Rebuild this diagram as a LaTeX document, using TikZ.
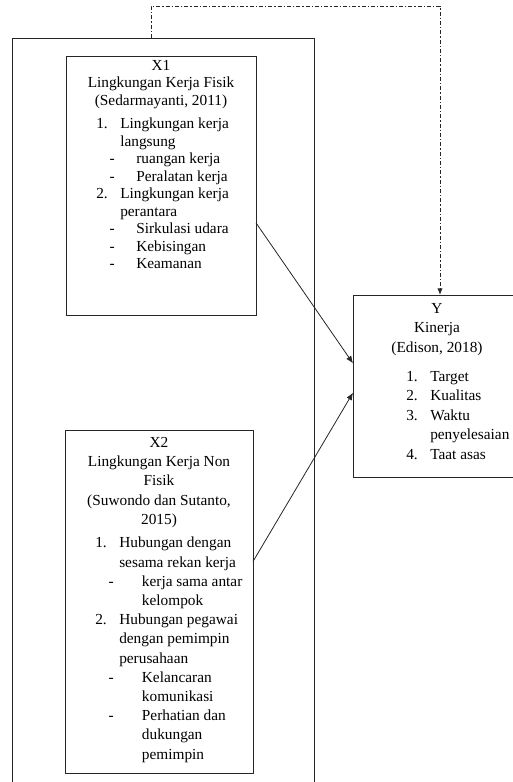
\documentclass[tikz,border=0pt]{standalone}
\usepackage{fontspec}
\setmainfont{Liberation Serif}
\usetikzlibrary{positioning,fit,arrows.meta}

\newcommand{\nomor}[2]{\makebox[18pt][l]{#1}#2}
\newcommand{\lanjut}[1]{\hspace*{18pt}#1}
\newcommand{\strip}[2][30pt]{\hspace*{10pt}\makebox[\dimexpr#1-10pt\relax][l]{-}#2}
\newcommand{\lanjutstrip}[2][30pt]{\hspace*{#1}#2}

\begin{document}
\begin{tikzpicture}[x=0.75pt,y=-0.75pt]
\tikzstyle{bingkai}=[draw=black!85, line width=0.75pt, inner sep=0pt, outer sep=0pt]
\tikzstyle{judul}=[align=center, inner sep=0pt, anchor=north, font=\fontsize{11.5}{14.4}\selectfont]
\tikzstyle{daftar}=[align=left, inner sep=0pt, anchor=north west, font=\fontsize{11.5}{14.4}\selectfont]
\tikzstyle{rapat}=[font=\fontsize{11.5}{13.1}\selectfont]
\tikzstyle{longgar}=[font=\fontsize{11.5}{14.6}\selectfont]
\tikzstyle{panah}=[-{Latex[length=5.5pt,width=4.5pt]}, line width=0.6pt, draw=black!85]
\tikzstyle{putus}=[-{Latex[length=5pt,width=4pt]}, line width=0.75pt, draw=black!85,
  dash pattern=on 3pt off 1.5pt on 1pt off 1.5pt]
\useasboundingbox (0,0) rectangle (513,782);

% kotak
\node[bingkai, fit={(12,38) (314,792)}] (luar) {};
\node[bingkai, fit={(66,56) (256,315)}] (bx1) {};
\node[bingkai, fit={(65,430) (253,773)}] (bx2) {};
\node[bingkai, fit={(353,295) (527,477)}] (by) {};

% isi X1
\node[judul, rapat] (judulx1) at (161,60) {X1\\Lingkungan Kerja Fisik\\(Sedarmayanti, 2011)};
\node[daftar, rapat] (daftarx1) at (96,118) {\nomor{1.}{Lingkungan kerja}\\
  \lanjut{langsung}\\
  \strip{ruangan kerja}\\
  \strip{Peralatan kerja}\\
  \nomor{2.}{Lingkungan kerja}\\
  \lanjut{perantara}\\
  \strip{Sirkulasi udara}\\
  \strip{Kebisingan}\\
  \strip{Keamanan}};

% isi X2
\node[judul] (judulx2) at (159,437) {X2\\Lingkungan Kerja Non\\Fisik\\(Suwondo dan Sutanto,\\2015)};
\node[daftar] (daftarx2) at (95,537) {\nomor{1.}{Hubungan dengan}\\
  \lanjut{sesama rekan kerja}\\
  \strip[35pt]{kerja sama antar}\\
  \lanjutstrip[35pt]{kelompok}\\
  \nomor{2.}{Hubungan pegawai}\\
  \lanjut{dengan pemimpin}\\
  \lanjut{perusahaan}\\
  \strip[35pt]{Kelancaran}\\
  \lanjutstrip[35pt]{komunikasi}\\
  \strip[35pt]{Perhatian dan}\\
  \lanjutstrip[35pt]{dukungan}\\
  \lanjutstrip[35pt]{pemimpin}};

% isi Y
\node[judul, longgar] (juduly) at (437,303) {Y\\Kinerja\\(Edison, 2018)};
\node[daftar, longgar] (daftary) at (406,371) {\nomor{1.}{Target}\\
  \nomor{2.}{Kualitas}\\
  \nomor{3.}{Waktu}\\
  \lanjut{penyelesaian}\\
  \nomor{4.}{Taat asas}};

% panah
\coordinate (atas) at (by.north |- 0,6);
\draw[panah] ([yshift=-28pt]bx1.east) -- ([yshift=17pt]by.west);
\draw[panah] ([yshift=30pt]bx2.east) -- ([yshift=-5pt]by.west);
\draw[putus] ([xshift=-9pt]luar.north) |- (atas) -- (by.north);
\end{tikzpicture}
\end{document}
